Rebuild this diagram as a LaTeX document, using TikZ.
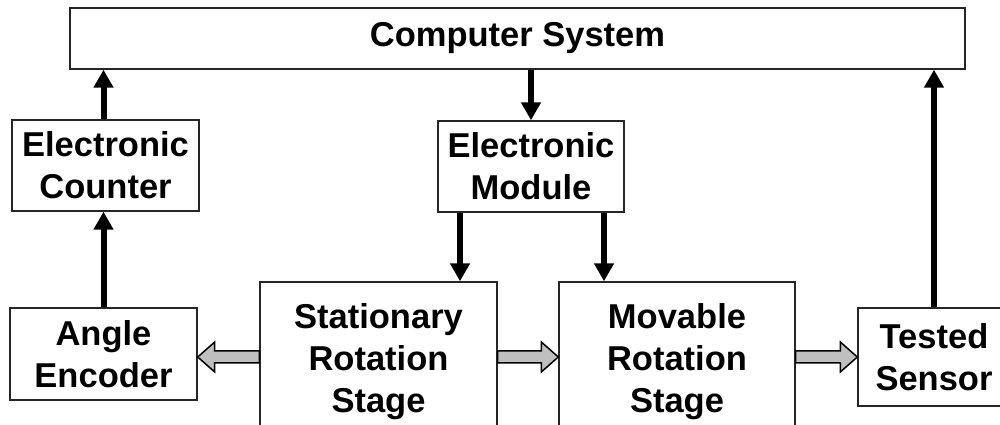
\documentclass[tikz,border=0pt]{standalone}
\usepackage{fontspec}
\setmainfont{Liberation Sans}
\usetikzlibrary{arrows.meta,calc}

\tikzset{
  blk/.style={draw=black!85, line width=1.4pt, fill=white, rectangle, inner sep=0pt,
    align=center, font=\bfseries\fontsize{34.5}{42}\selectfont},
  sig/.style={line width=6pt, -{Triangle[length=18pt,width=19pt]}},
  garrow/.style={draw=black, line width=1.5pt, fill=black!25, line join=miter}
}

% gray block arrow from #1 to #2 (horizontal)
\newcommand{\grayarrow}[2]{%
  \path[garrow] let \p1=(#1), \p2=(#2), \n1={sign(\x2-\x1)} in
    (\x1,{\y1+6}) -- ({\x2-\n1*17},{\y1+6}) -- ({\x2-\n1*17},{\y1+15}) --
    (\x2,\y1) -- ({\x2-\n1*17},{\y1-15}) -- ({\x2-\n1*17},{\y1-6}) --
    (\x1,{\y1-6}) -- cycle;}

\begin{document}
\begin{tikzpicture}[x=1pt,y=1pt]
\useasboundingbox (0,0) rectangle (1000,425);
\clip (0,0) rectangle (1000,425);

% blocks
\node[blk, minimum width=895pt, minimum height=61pt] (comp) at (517.5,386.5) {Computer System};
\node[blk, minimum width=187pt, minimum height=91pt] (count) at (105.5,259.5) {Electronic\\Counter};
\node[blk, minimum width=186pt, minimum height=91pt] (mod) at (531,258.5) {Electronic\\Module};
\node[blk, minimum width=187pt, minimum height=92pt] (enc) at (103.5,71) {Angle\\Encoder};
\node[blk, minimum width=237pt, minimum height=159pt] (stat) at (378.5,63.5) {Stationary\\Rotation\\Stage};
\node[blk, minimum width=236pt, minimum height=159pt] (mov) at (677,63.5) {Movable\\Rotation\\Stage};
\node[blk, minimum width=152pt, minimum height=98pt] (test) at (934,68) {Tested\\Sensor};

% signal arrows
\draw[sig] ([xshift=-2pt]count.north) -- ([xshift=-2pt]count.north |- comp.south);
\draw[sig] (enc.north) -- (enc.north |- count.south);
\draw[sig] (mod.north |- comp.south) -- (mod.north);
\draw[sig] ([xshift=-71pt]mod.south) -- ([xshift=-71pt]mod.south |- stat.north);
\draw[sig] ([xshift=73pt]mod.south) -- ([xshift=73pt]mod.south |- mov.north);
\draw[sig] (test.north) -- (test.north |- comp.south);

% mechanical coupling arrows
\grayarrow{stat.west |- test.west}{enc.east |- test.west}
\grayarrow{stat.east |- test.west}{mov.west |- test.west}
\grayarrow{mov.east |- test.west}{test.west}
\end{tikzpicture}
\end{document}
